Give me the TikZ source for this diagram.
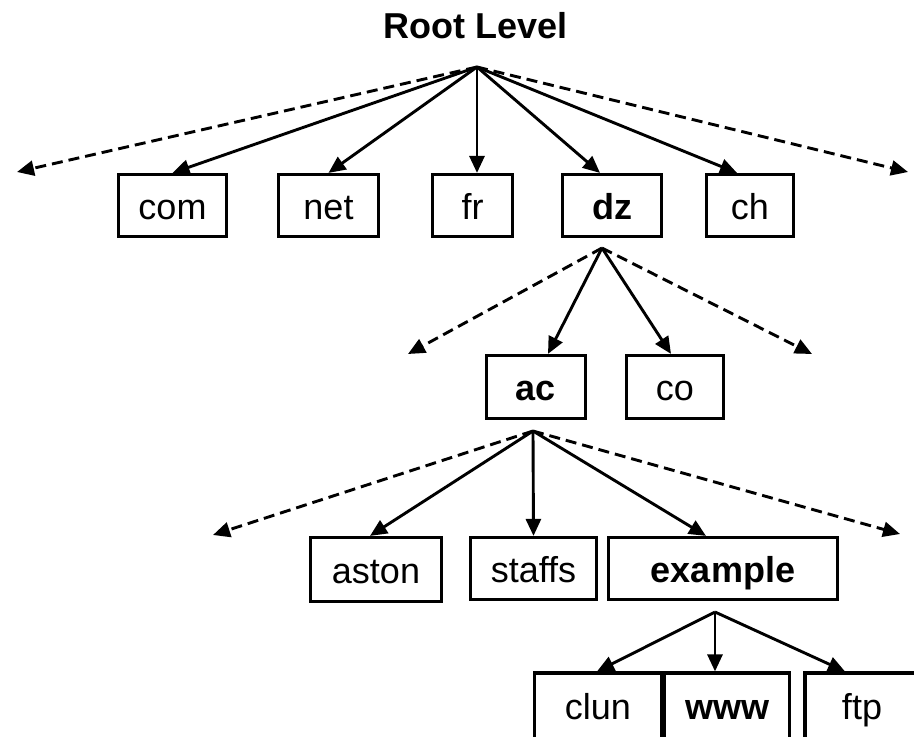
\documentclass[tikz,border=0pt]{standalone}
\usepackage{fontspec}
\setmainfont{Liberation Sans}
\usetikzlibrary{arrows.meta}
\begin{document}
\begin{tikzpicture}[x=1pt,y=-1pt,
  box/.style={draw, line width=3.2pt, inner sep=0pt, text height=27pt, text depth=0pt,
    font=\fontsize{36}{40}\selectfont},
  link/.style={line width=2.9pt, line join=round, -{Triangle[length=17pt,width=15pt]}},
  dashlink/.style={link, dash pattern=on 11pt off 6pt},
]
\useasboundingbox (0,0) rectangle (914,737);
\clip (0,0) rectangle (914,737);

% title
\node[inner sep=0pt, text height=27pt, text depth=0pt, font=\bfseries\fontsize{36}{40}\selectfont]
  (title) at (475.5,24.5) {Root Level};

% top-level domains
\node[box, minimum width=108pt, minimum height=62pt] (com) at (172.5,205.5) {com};
\node[box, minimum width=100pt, minimum height=62pt] (net) at (328.5,205.5) {net};
\node[box, minimum width=80pt,  minimum height=62pt] (fr)  at (472.5,205.5) {fr};
\node[box, minimum width=99pt,  minimum height=62pt] (dz)  at (612,205.5) {\bfseries dz};
\node[box, minimum width=87pt,  minimum height=62pt] (ch)  at (750,205.5) {ch};

% second level under dz
\node[box, minimum width=99pt, minimum height=63pt] (ac) at (536,387) {\bfseries ac};
\node[box, minimum width=97pt, minimum height=63pt] (co) at (675,387) {co};

% third level under ac
\node[box, minimum width=131pt, minimum height=64pt] (aston)   at (376,569.5) {aston};
\node[box, minimum width=126pt, minimum height=62pt] (staffs)  at (533.5,568.5) {staffs};
\node[box, minimum width=229pt, minimum height=62pt] (example) at (723,568.5) {\bfseries example};

% hosts under example
\node[box, minimum width=127pt, minimum height=66pt] (clun) at (598,706) {clun};
\node[box, minimum width=125pt, minimum height=66pt] (www)  at (727,706) {\bfseries www};
\node[box, minimum width=114pt, minimum height=66pt] (ftp)  at (862,706) {ftp};

% branching points and open ends
\coordinate (r)  at (477,67);
\coordinate (rL) at (17,172);
\coordinate (rR) at (908,172);
\coordinate (d)  at (602,248);
\coordinate (dL) at (408,354);
\coordinate (dR) at (812,354);
\coordinate (a)  at (533,431);
\coordinate (aL) at (213,535);
\coordinate (aR) at (900,534);
\coordinate (e)  at (715,612);

% root
\draw[dashlink] (r) -- (rL);
\draw[link] (r) -- (com.north);
\draw[link] (r) -- (net.north);
\draw[link] (r) -- ([xshift=4.5pt]fr.north);
\draw[link] (r) -- ([xshift=-12pt]dz.north);
\draw[link] (r) -- ([xshift=-13pt]ch.north);
\draw[dashlink] (r) -- (rR);

% dz
\draw[dashlink] (d) -- (dL);
\draw[link] (d) -- ([xshift=12pt]ac.north);
\draw[link] (d) -- ([xshift=-4pt]co.north);
\draw[dashlink] (d) -- (dR);

% ac
\draw[dashlink] (a) -- (aL);
\draw[link] (a) -- ([xshift=-6pt]aston.north);
\draw[link] (a) -- (staffs.north);
\draw[link] (a) -- ([xshift=-17pt]example.north);
\draw[dashlink] (a) -- (aR);

% example
\draw[link] (e) -- ([xshift=-1pt]clun.north);
\draw[link] (e) -- ([xshift=-12pt]www.north);
\draw[link] (e) -- ([xshift=-17pt]ftp.north);
\end{tikzpicture}
\end{document}
